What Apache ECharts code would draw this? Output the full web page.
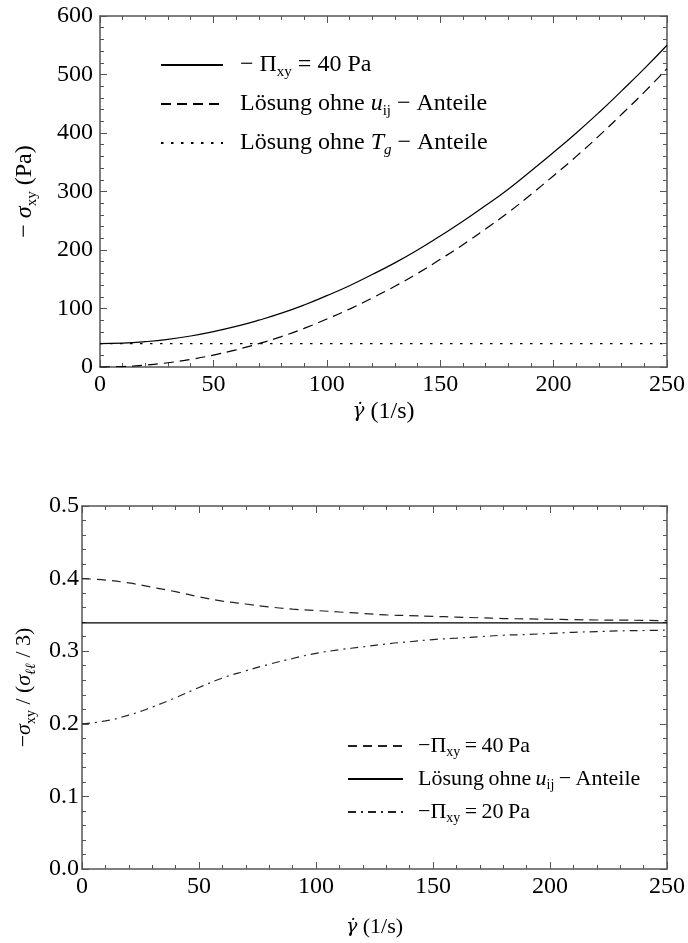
<!DOCTYPE html>
<html>
<head>
<meta charset="utf-8">
<script src="https://cdn.jsdelivr.net/npm/echarts@6/dist/echarts.min.js"></script>
<style>
html,body{margin:0;padding:0;background:#fff;}
#chart{width:688px;height:943px;}
</style>
</head>
<body>
<div id="chart"></div>
<script>
// ---------- data ----------
const gamma = [0,10,20,30,40,50,60,70,80,90,100,110,120,130,140,150,160,170,180,190,200,210,220,230,240,250];

// top panel: -sigma_xy (Pa)
const topPi40 = [40,40.8,43.3,47.3,53,60.4,69.4,80,92,106,122,139,158,178,200,224,249,276,304,335,367,400,435,472,510,550];
const topNoU  = [0,0.8,3.3,7.3,13,20.4,29.4,40,52,66,82,99,118,138,160,184,209,236,264,295,327,360,395,432,470,510];
const topNoT  = [40,40,40,40,40,40,40,40,40,40,40,40,40,40,40,40,40,40,40,40,40,40,40,40,40,40];

// bottom panel: -sigma_xy / (sigma_ll / 3)
const botPi40 = [0.400,0.398,0.394,0.388,0.382,0.375,0.369,0.365,0.361,0.358,0.356,0.354,0.352,0.350,0.349,0.348,0.347,0.346,0.345,0.3445,0.344,0.3435,0.343,0.3428,0.3425,0.342];
const botNoU  = [0.339,0.339,0.339,0.339,0.339,0.339,0.339,0.339,0.339,0.339,0.339,0.339,0.339,0.339,0.339,0.339,0.339,0.339,0.339,0.339,0.339,0.339,0.339,0.339,0.339,0.339];
const botPi20 = [0.200,0.204,0.212,0.223,0.236,0.250,0.263,0.273,0.282,0.290,0.297,0.302,0.306,0.310,0.313,0.316,0.318,0.320,0.322,0.323,0.3245,0.326,0.327,0.328,0.3285,0.329];

const topXTicks = [0,50,100,150,200,250];
const topYTicks = [0,100,200,300,400,500,600];
const botYTicks = [0.0,0.1,0.2,0.3,0.4,0.5];

const legendLabels = {
  't40':  '{g| }{r|− Π}{s|xy}{r| = 40 Pa}',
  'tnoU': '{g| }{r|Lösung ohne }{i|u}{s|ij}{r| − Anteile}',
  'tnoT': '{g| }{r|Lösung ohne }{i|T}{si|g}{r| − Anteile}',
  'b40':  '{g| }{r|−Π}{s|xy}{r|\u2009=\u200940\u2009Pa}',
  'bnoU': '{g| }{r|Lösung\u2009ohne\u2009}{i|u}{s|ij}{r|\u2009−\u2009Anteile}',
  'b20':  '{g| }{r|−Π}{s|xy}{r|\u2009=\u200920\u2009Pa}'
};
const xTitle = '{gd|γ̇}{r| (1/s)}';

// ---------- styling helpers ----------
const FONT = '"Liberation Serif", serif';
const FRAME = '#555';
function richSet(fs, lh, gap) {
  const sub = Math.round(fs * 0.62);
  return {
    g: {width: gap, fontSize: fs, lineHeight: lh},
    r: {fontFamily: FONT, fontSize: fs, lineHeight: lh, color: '#000'},
    i: {fontFamily: FONT, fontSize: fs, lineHeight: lh, color: '#000', fontStyle: 'italic'},
    gd: {fontFamily: '"DejaVu Serif", serif', fontSize: Math.round(fs * 0.85), lineHeight: lh, color: '#000', fontStyle: 'italic'},
    s: {fontFamily: FONT, fontSize: sub, lineHeight: sub, color: '#000', verticalAlign: 'bottom'},
    si: {fontFamily: FONT, fontSize: sub, lineHeight: sub, color: '#000', fontStyle: 'italic', verticalAlign: 'bottom'}
  };
}
function axisBase(extra) {
  return Object.assign({
    type: 'value',
    axisLine: {show: true, onZero: false, lineStyle: {color: FRAME, width: 1.5}},
    axisTick: {show: true, inside: true, length: 7, lineStyle: {color: FRAME, width: 1}},
    minorTick: {show: true, splitNumber: 5, length: 4, lineStyle: {color: FRAME, width: 1}},
    splitLine: {show: false},
    minorSplitLine: {show: false}
  }, extra);
}
const labelStyle = {fontFamily: FONT, fontSize: 24, color: '#000', showMinLabel: true, showMaxLabel: true};

function pairs(xs, ys) { return xs.map((x, k) => [x, ys[k]]); }

const option = {
  backgroundColor: '#fff',
  animation: false,
  grid: [
    {left: 100, top: 16, width: 568, height: 351},
    {left: 82, top: 506, width: 587, height: 363}
  ],
  xAxis: [
    axisBase({gridIndex: 0, position: 'bottom', min: 0, max: 250, interval: 50,
      axisLabel: Object.assign({margin: 6}, labelStyle),
      name: xTitle, nameLocation: 'middle', nameGap: 30,
      nameTextStyle: {rich: richSet(24, 30, 0)}}),
    axisBase({gridIndex: 0, position: 'top', min: 0, max: 250, interval: 50, axisLabel: {show: false}}),
    axisBase({gridIndex: 1, position: 'bottom', min: 0, max: 250, interval: 50,
      axisLabel: Object.assign({margin: 6}, labelStyle),
      name: xTitle, nameLocation: 'middle', nameGap: 44,
      nameTextStyle: {rich: richSet(22, 28, 0)}}),
    axisBase({gridIndex: 1, position: 'top', min: 0, max: 250, interval: 50, axisLabel: {show: false}})
  ],
  yAxis: [
    axisBase({gridIndex: 0, position: 'left', min: 0, max: 600, interval: 100,
      axisLabel: Object.assign({margin: 7}, labelStyle),
      name: '{r|− }{i|σ}{s|xy}{r| (Pa)}', nameLocation: 'middle', nameGap: 60, nameRotate: 90,
      nameTextStyle: {rich: richSet(24, 30, 0)}}),
    axisBase({gridIndex: 0, position: 'right', min: 0, max: 600, interval: 100, axisLabel: {show: false}}),
    axisBase({gridIndex: 1, position: 'left', min: 0, max: 0.5, interval: 0.1,
      axisLabel: Object.assign({margin: 3, formatter: v => v.toFixed(1)}, labelStyle),
      name: '{r|−}{i|σ}{s|xy}{r| / (}{i|σ}{si|ℓℓ}{r| / 3)}', nameLocation: 'middle', nameGap: 42, nameRotate: 90,
      nameTextStyle: {rich: richSet(22, 28, 0)}}),
    axisBase({gridIndex: 1, position: 'right', min: 0, max: 0.5, interval: 0.1, axisLabel: {show: false}})
  ],
  legend: [
    {left: 160, top: 53, orient: 'vertical', padding: 0, itemWidth: 62, itemHeight: 14, itemGap: 12,
      selectedMode: false, data: ['t40', 'tnoU', 'tnoT'],
      itemStyle: {opacity: 0},
      formatter: n => legendLabels[n],
      textStyle: {rich: richSet(24, 30, 12)}},
    {left: 347, top: 735, orient: 'vertical', padding: 0, itemWidth: 55, itemHeight: 14, itemGap: 9,
      selectedMode: false, data: ['b40', 'bnoU', 'b20'],
      itemStyle: {opacity: 0},
      formatter: n => legendLabels[n],
      textStyle: {rich: richSet(22, 26, 10)}}
  ],
  series: [
    {name: 't40', type: 'line', xAxisIndex: 0, yAxisIndex: 0, data: pairs(gamma, topPi40), symbol: 'none', smooth: true,
      lineStyle: {color: '#000', width: 1.2, type: 'solid'}, itemStyle: {color: '#000'}},
    {name: 'tnoU', type: 'line', xAxisIndex: 0, yAxisIndex: 0, data: pairs(gamma, topNoU), symbol: 'none', smooth: true,
      lineStyle: {color: '#000', width: 1.2, type: [10, 6]}, itemStyle: {color: '#000'}},
    {name: 'tnoT', type: 'line', xAxisIndex: 0, yAxisIndex: 0, data: pairs(gamma, topNoT), symbol: 'none',
      lineStyle: {color: '#000', width: 1.2, type: [2.5, 7.5]}, itemStyle: {color: '#000'}},
    {name: 'b40', type: 'line', xAxisIndex: 2, yAxisIndex: 2, data: pairs(gamma, botPi40), symbol: 'none', smooth: true,
      lineStyle: {color: '#222', width: 1.2, type: [9, 6]}, itemStyle: {color: '#000'}},
    {name: 'bnoU', type: 'line', xAxisIndex: 2, yAxisIndex: 2, data: pairs(gamma, botNoU), symbol: 'none',
      lineStyle: {color: '#000', width: 1.2, type: 'solid'}, itemStyle: {color: '#000'}},
    {name: 'b20', type: 'line', xAxisIndex: 2, yAxisIndex: 2, data: pairs(gamma, botPi20), symbol: 'none', smooth: true,
      lineStyle: {color: '#222', width: 1.2, type: [8, 5, 2, 5]}, itemStyle: {color: '#000'}}
  ]
};

const chart = echarts.init(document.getElementById('chart'), null, {renderer: 'canvas'});
chart.setOption(option);
</script>
</body>
</html>
